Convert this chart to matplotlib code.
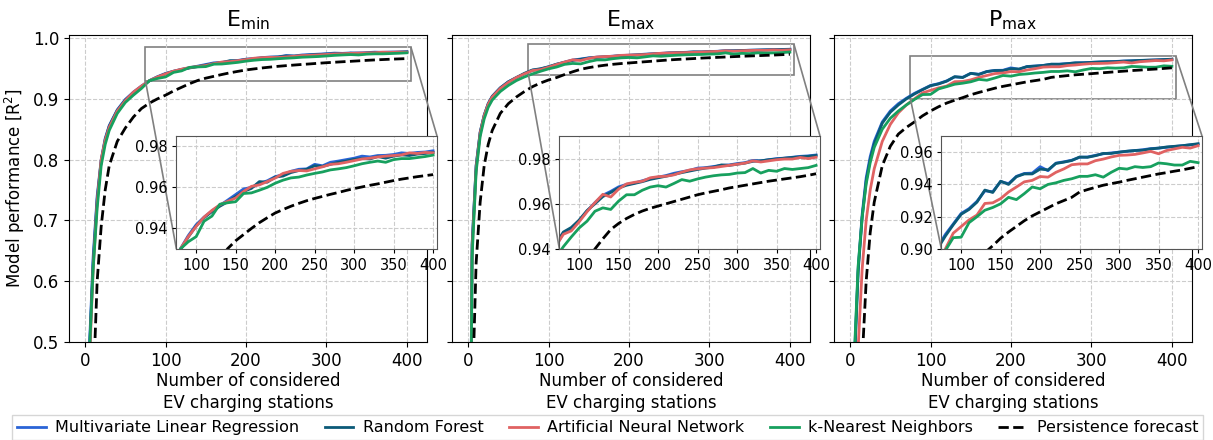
import matplotlib
matplotlib.use("Agg")
import matplotlib.pyplot as plt
from mpl_toolkits.axes_grid1.inset_locator import mark_inset

# ---------------- data ----------------
x = [1, 5, 10, 15, 20, 25, 30, 40, 50, 60, 70,
     80, 90, 100, 110, 120, 130, 140, 150, 160, 170, 180, 190, 200, 210, 220, 230,
     240, 250, 260, 270, 280, 290, 300, 310, 320, 330, 340, 350, 360, 370, 380, 390, 400]

titles = [r"E$_{\mathrm{min}}$", r"E$_{\mathrm{max}}$", r"P$_{\mathrm{max}}$"]
labels = ["Multivariate Linear Regression", "Random Forest", "Artificial Neural Network",
          "k-Nearest Neighbors", "Persistence forecast"]

# E_min
emin_mlr = [0.0, 0.48, 0.64, 0.74, 0.80, 0.835, 0.856, 0.882, 0.899, 0.911, 0.921,
            0.930, 0.9365, 0.9418, 0.9455, 0.9485, 0.9512, 0.9538, 0.9565, 0.9592, 0.9600, 0.9618, 0.9632, 0.9652,
            0.9662, 0.9678, 0.9688, 0.9690, 0.9712, 0.9705, 0.9722, 0.9728, 0.9735, 0.9742, 0.9752, 0.9748, 0.9755,
            0.9756, 0.9760, 0.9768, 0.9765, 0.9770, 0.9772, 0.9778]
emin_rf = [0.0, 0.47, 0.63, 0.735, 0.798, 0.833, 0.855, 0.881, 0.898, 0.910, 0.920,
           0.9295, 0.9358, 0.9412, 0.9452, 0.9482, 0.9508, 0.9530, 0.9555, 0.9580, 0.9595, 0.9628, 0.9625, 0.9650,
           0.9655, 0.9672, 0.9682, 0.9688, 0.9705, 0.9702, 0.9712, 0.9722, 0.9728, 0.9736, 0.9740, 0.9738, 0.9750,
           0.9742, 0.9752, 0.9758, 0.9755, 0.9762, 0.9765, 0.9770]
emin_ann = [0.0, 0.45, 0.62, 0.73, 0.80, 0.832, 0.853, 0.880, 0.897, 0.911, 0.921,
            0.9300, 0.9360, 0.9410, 0.9455, 0.9488, 0.9515, 0.9532, 0.9548, 0.9580, 0.9605, 0.9612, 0.9628, 0.9645,
            0.9668, 0.9678, 0.9682, 0.9680, 0.9690, 0.9700, 0.9712, 0.9715, 0.9722, 0.9730, 0.9738, 0.9742, 0.9748,
            0.9752, 0.9755, 0.9758, 0.9768, 0.9765, 0.9770, 0.9768]
emin_knn = [0.0, 0.47, 0.62, 0.72, 0.79, 0.825, 0.848, 0.876, 0.894, 0.906, 0.917,
            0.9300, 0.9335, 0.9360, 0.9435, 0.9460, 0.9518, 0.9525, 0.9530, 0.9570, 0.9573, 0.9586, 0.9600, 0.9620,
            0.9635, 0.9646, 0.9650, 0.9660, 0.9668, 0.9675, 0.9685, 0.9690, 0.9696, 0.9705, 0.9715, 0.9722, 0.9728,
            0.9722, 0.9735, 0.9740, 0.9740, 0.9745, 0.9750, 0.9757]
emin_pers = [-0.5, 0.10, 0.42, 0.60, 0.69, 0.75, 0.79, 0.83, 0.852, 0.870, 0.884,
             0.893, 0.900, 0.906, 0.913, 0.919, 0.925, 0.9302, 0.9340, 0.9370, 0.9400, 0.9428, 0.9452, 0.9475,
             0.9492, 0.9508, 0.9522, 0.9535, 0.9546, 0.9556, 0.9566, 0.9575, 0.9585, 0.9594, 0.9602, 0.9610, 0.9617,
             0.9625, 0.9633, 0.9640, 0.9646, 0.9652, 0.9657, 0.9662]

# E_max
emax_mlr = [0.0, 0.66, 0.79, 0.845, 0.873, 0.892, 0.904, 0.918, 0.928, 0.935, 0.941,
            0.9470, 0.9490, 0.9525, 0.9568, 0.9605, 0.9638, 0.9655, 0.9675, 0.9686, 0.9692, 0.9702, 0.9712, 0.9718,
            0.9725, 0.9735, 0.9742, 0.9748, 0.9758, 0.9760, 0.9765, 0.9770, 0.9772, 0.9778, 0.9782, 0.9792, 0.9790,
            0.9795, 0.9800, 0.9802, 0.9806, 0.9810, 0.9812, 0.9816]
emax_rf = [0.0, 0.66, 0.79, 0.845, 0.873, 0.892, 0.904, 0.918, 0.928, 0.935, 0.942,
           0.9475, 0.9495, 0.9528, 0.9570, 0.9600, 0.9632, 0.9650, 0.9670, 0.9682, 0.9690, 0.9698, 0.9708, 0.9715,
           0.9722, 0.9730, 0.9738, 0.9745, 0.9752, 0.9758, 0.9762, 0.9772, 0.9770, 0.9775, 0.9780, 0.9788, 0.9790,
           0.9795, 0.9798, 0.9802, 0.9805, 0.9808, 0.9810, 0.9814]
emax_ann = [0.0, 0.65, 0.785, 0.843, 0.872, 0.891, 0.903, 0.917, 0.927, 0.935, 0.941,
            0.9465, 0.9480, 0.9520, 0.9565, 0.9605, 0.9642, 0.9630, 0.9665, 0.9688, 0.9695, 0.9700, 0.9715, 0.9720,
            0.9722, 0.9728, 0.9740, 0.9750, 0.9755, 0.9758, 0.9760, 0.9765, 0.9770, 0.9775, 0.9780, 0.9790, 0.9785,
            0.9790, 0.9795, 0.9798, 0.9798, 0.9805, 0.9800, 0.9806]
emax_knn = [0.0, 0.64, 0.78, 0.838, 0.867, 0.886, 0.898, 0.912, 0.922, 0.930, 0.936,
            0.9410, 0.9453, 0.9493, 0.9523, 0.9567, 0.9582, 0.9575, 0.9612, 0.9640, 0.9640, 0.9660, 0.9674, 0.9680,
            0.9674, 0.9690, 0.9707, 0.9700, 0.9710, 0.9718, 0.9724, 0.9728, 0.9730, 0.9736, 0.9738, 0.9756, 0.9736,
            0.9748, 0.9744, 0.9756, 0.9752, 0.9756, 0.9760, 0.9770]
emax_pers = [-0.5, 0.40, 0.63, 0.73, 0.79, 0.825, 0.848, 0.876, 0.892, 0.903, 0.912,
             0.9200, 0.9260, 0.9310, 0.9350, 0.9400, 0.9445, 0.9486, 0.9513, 0.9535, 0.9553, 0.9568, 0.9580, 0.9590,
             0.9600, 0.9610, 0.9620, 0.9630, 0.9640, 0.9648, 0.9655, 0.9662, 0.9670, 0.9676, 0.9682, 0.9688, 0.9694,
             0.9700, 0.9705, 0.9710, 0.9715, 0.9720, 0.9726, 0.9733]

# P_max
pmax_mlr = [0.0, 0.46, 0.62, 0.71, 0.77, 0.805, 0.83, 0.862, 0.880, 0.892, 0.901,
            0.9090, 0.9155, 0.9220, 0.9250, 0.9295, 0.9360, 0.9355, 0.9418, 0.9405, 0.9450, 0.9468, 0.9470, 0.9510,
            0.9485, 0.9532, 0.9540, 0.9550, 0.9568, 0.9570, 0.9580, 0.9590, 0.9595, 0.9600, 0.9605, 0.9610, 0.9615,
            0.9622, 0.9625, 0.9630, 0.9635, 0.9640, 0.9645, 0.9650]
pmax_rf = [0.0, 0.45, 0.615, 0.705, 0.765, 0.80, 0.826, 0.86, 0.878, 0.890, 0.900,
           0.9080, 0.9150, 0.9215, 0.9245, 0.9290, 0.9365, 0.9350, 0.9420, 0.9400, 0.9448, 0.9465, 0.9465, 0.9495,
           0.9490, 0.9530, 0.9538, 0.9548, 0.9570, 0.9568, 0.9578, 0.9592, 0.9592, 0.9600, 0.9606, 0.9610, 0.9612,
           0.9620, 0.9625, 0.9632, 0.9636, 0.9640, 0.9646, 0.9652]
pmax_ann = [0.0, 0.30, 0.49, 0.62, 0.70, 0.75, 0.785, 0.83, 0.858, 0.877, 0.890,
            0.9000, 0.9098, 0.9139, 0.9180, 0.9210, 0.9282, 0.9286, 0.9312, 0.9353, 0.9384, 0.9416, 0.9425, 0.9449,
            0.9445, 0.9475, 0.9496, 0.9522, 0.9527, 0.9527, 0.9547, 0.9557, 0.9570, 0.9580, 0.9582, 0.9586, 0.9595,
            0.9605, 0.9590, 0.9610, 0.9620, 0.9630, 0.9625, 0.9640]
pmax_knn = [0.0, 0.47, 0.625, 0.705, 0.76, 0.795, 0.82, 0.85, 0.868, 0.880, 0.890,
            0.8990, 0.9070, 0.9073, 0.9163, 0.9200, 0.9240, 0.9257, 0.9280, 0.9320, 0.9306, 0.9343, 0.9384, 0.9373,
            0.9400, 0.9410, 0.9425, 0.9435, 0.9450, 0.9450, 0.9460, 0.9445, 0.9475, 0.9500, 0.9495, 0.9510, 0.9505,
            0.9510, 0.9533, 0.9528, 0.9520, 0.9520, 0.9543, 0.9535]
pmax_pers = [-0.5, 0.0, 0.30, 0.47, 0.60, 0.68, 0.73, 0.79, 0.822, 0.842, 0.853,
             0.862, 0.872, 0.880, 0.887, 0.893, 0.8977, 0.9020, 0.9067, 0.9105, 0.9140, 0.9175, 0.9205, 0.9230,
             0.9255, 0.9280, 0.9300, 0.9320, 0.9353, 0.9368, 0.9382, 0.9395, 0.9405, 0.9414, 0.9425, 0.9435, 0.9445,
             0.9455, 0.9465, 0.9473, 0.9482, 0.9490, 0.9500, 0.9510]

panels = [
    [emin_mlr, emin_rf, emin_ann, emin_knn, emin_pers],
    [emax_mlr, emax_rf, emax_ann, emax_knn, emax_pers],
    [pmax_mlr, pmax_rf, pmax_ann, pmax_knn, pmax_pers],
]
inset_ylims = [(0.930, 0.985), (0.940, 0.990), (0.900, 0.970)]
inset_yticks = [[0.94, 0.96, 0.98], [0.94, 0.96, 0.98], [0.90, 0.92, 0.94, 0.96]]
inset_xlim = (75, 405)
main_xticks = [0, 100, 200, 300, 400]
main_yticks = [0.5, 0.6, 0.7, 0.8, 0.9, 1.0]
inset_xticks = [100, 150, 200, 250, 300, 350, 400]

# ---------------- style ----------------
colors = ["#2a64d6", "#0b5a78", "#e06262", "#17a05e", "black"]
styles = ["-", "-", "-", "-", "--"]
grid_kw = dict(color="#cccccc", linestyle="--", linewidth=0.8)

fig = plt.figure(figsize=(12.13, 4.40), dpi=100)
lefts = [69 / 1213, 452 / 1213, 834 / 1213]
w = 358 / 1213
b = 1 - 342 / 440
h = 307 / 440

handles = []
for i in range(3):
    ax = fig.add_axes([lefts[i], b, w, h])
    for j in range(5):
        ln, = ax.plot(x, panels[i][j], color=colors[j], linestyle=styles[j], lw=2.0)
        if i == 0:
            handles.append(ln)
    ax.set_xlim(-20, 425)
    ax.set_ylim(0.5, 1.005)
    ax.set_xticks(main_xticks)
    ax.set_yticks(main_yticks)
    ax.grid(True, **grid_kw)
    ax.tick_params(labelsize=12)
    if i == 0:
        ax.set_ylabel("Model performance [R$^2$]", fontsize=12)
    else:
        ax.tick_params(labelleft=False)
    ax.set_xlabel("Number of considered\nEV charging stations", fontsize=12,
                  linespacing=1.25, labelpad=2)
    ax.set_title(titles[i], fontsize=16)

    axins = ax.inset_axes([0.30, 0.303, 0.728, 0.368])
    for j in range(5):
        axins.plot(x, panels[i][j], color=colors[j], linestyle=styles[j], lw=2.0)
    axins.set_xlim(*inset_xlim)
    axins.set_ylim(*inset_ylims[i])
    axins.set_xticks(inset_xticks)
    axins.set_yticks(inset_yticks[i])
    axins.set_yticklabels([f"{v:.2f}" for v in inset_yticks[i]])
    axins.grid(True, **grid_kw)
    axins.tick_params(labelsize=10.5, length=3)
    for sp in axins.spines.values():
        sp.set_color("#555555")
    mark_inset(ax, axins, loc1=3, loc2=1, fc="none", ec="0.5", lw=1.2)

fig.legend(handles, labels, loc="lower left", ncol=5, mode="expand",
           bbox_to_anchor=(12 / 1213, 0.0, 1191 / 1213, 28 / 440),
           fontsize=11.5, frameon=True, fancybox=False, edgecolor="#cccccc",
           handlelength=1.8, handletextpad=0.6, borderaxespad=0, borderpad=0.3)

fig.savefig("out.png", dpi=100)
